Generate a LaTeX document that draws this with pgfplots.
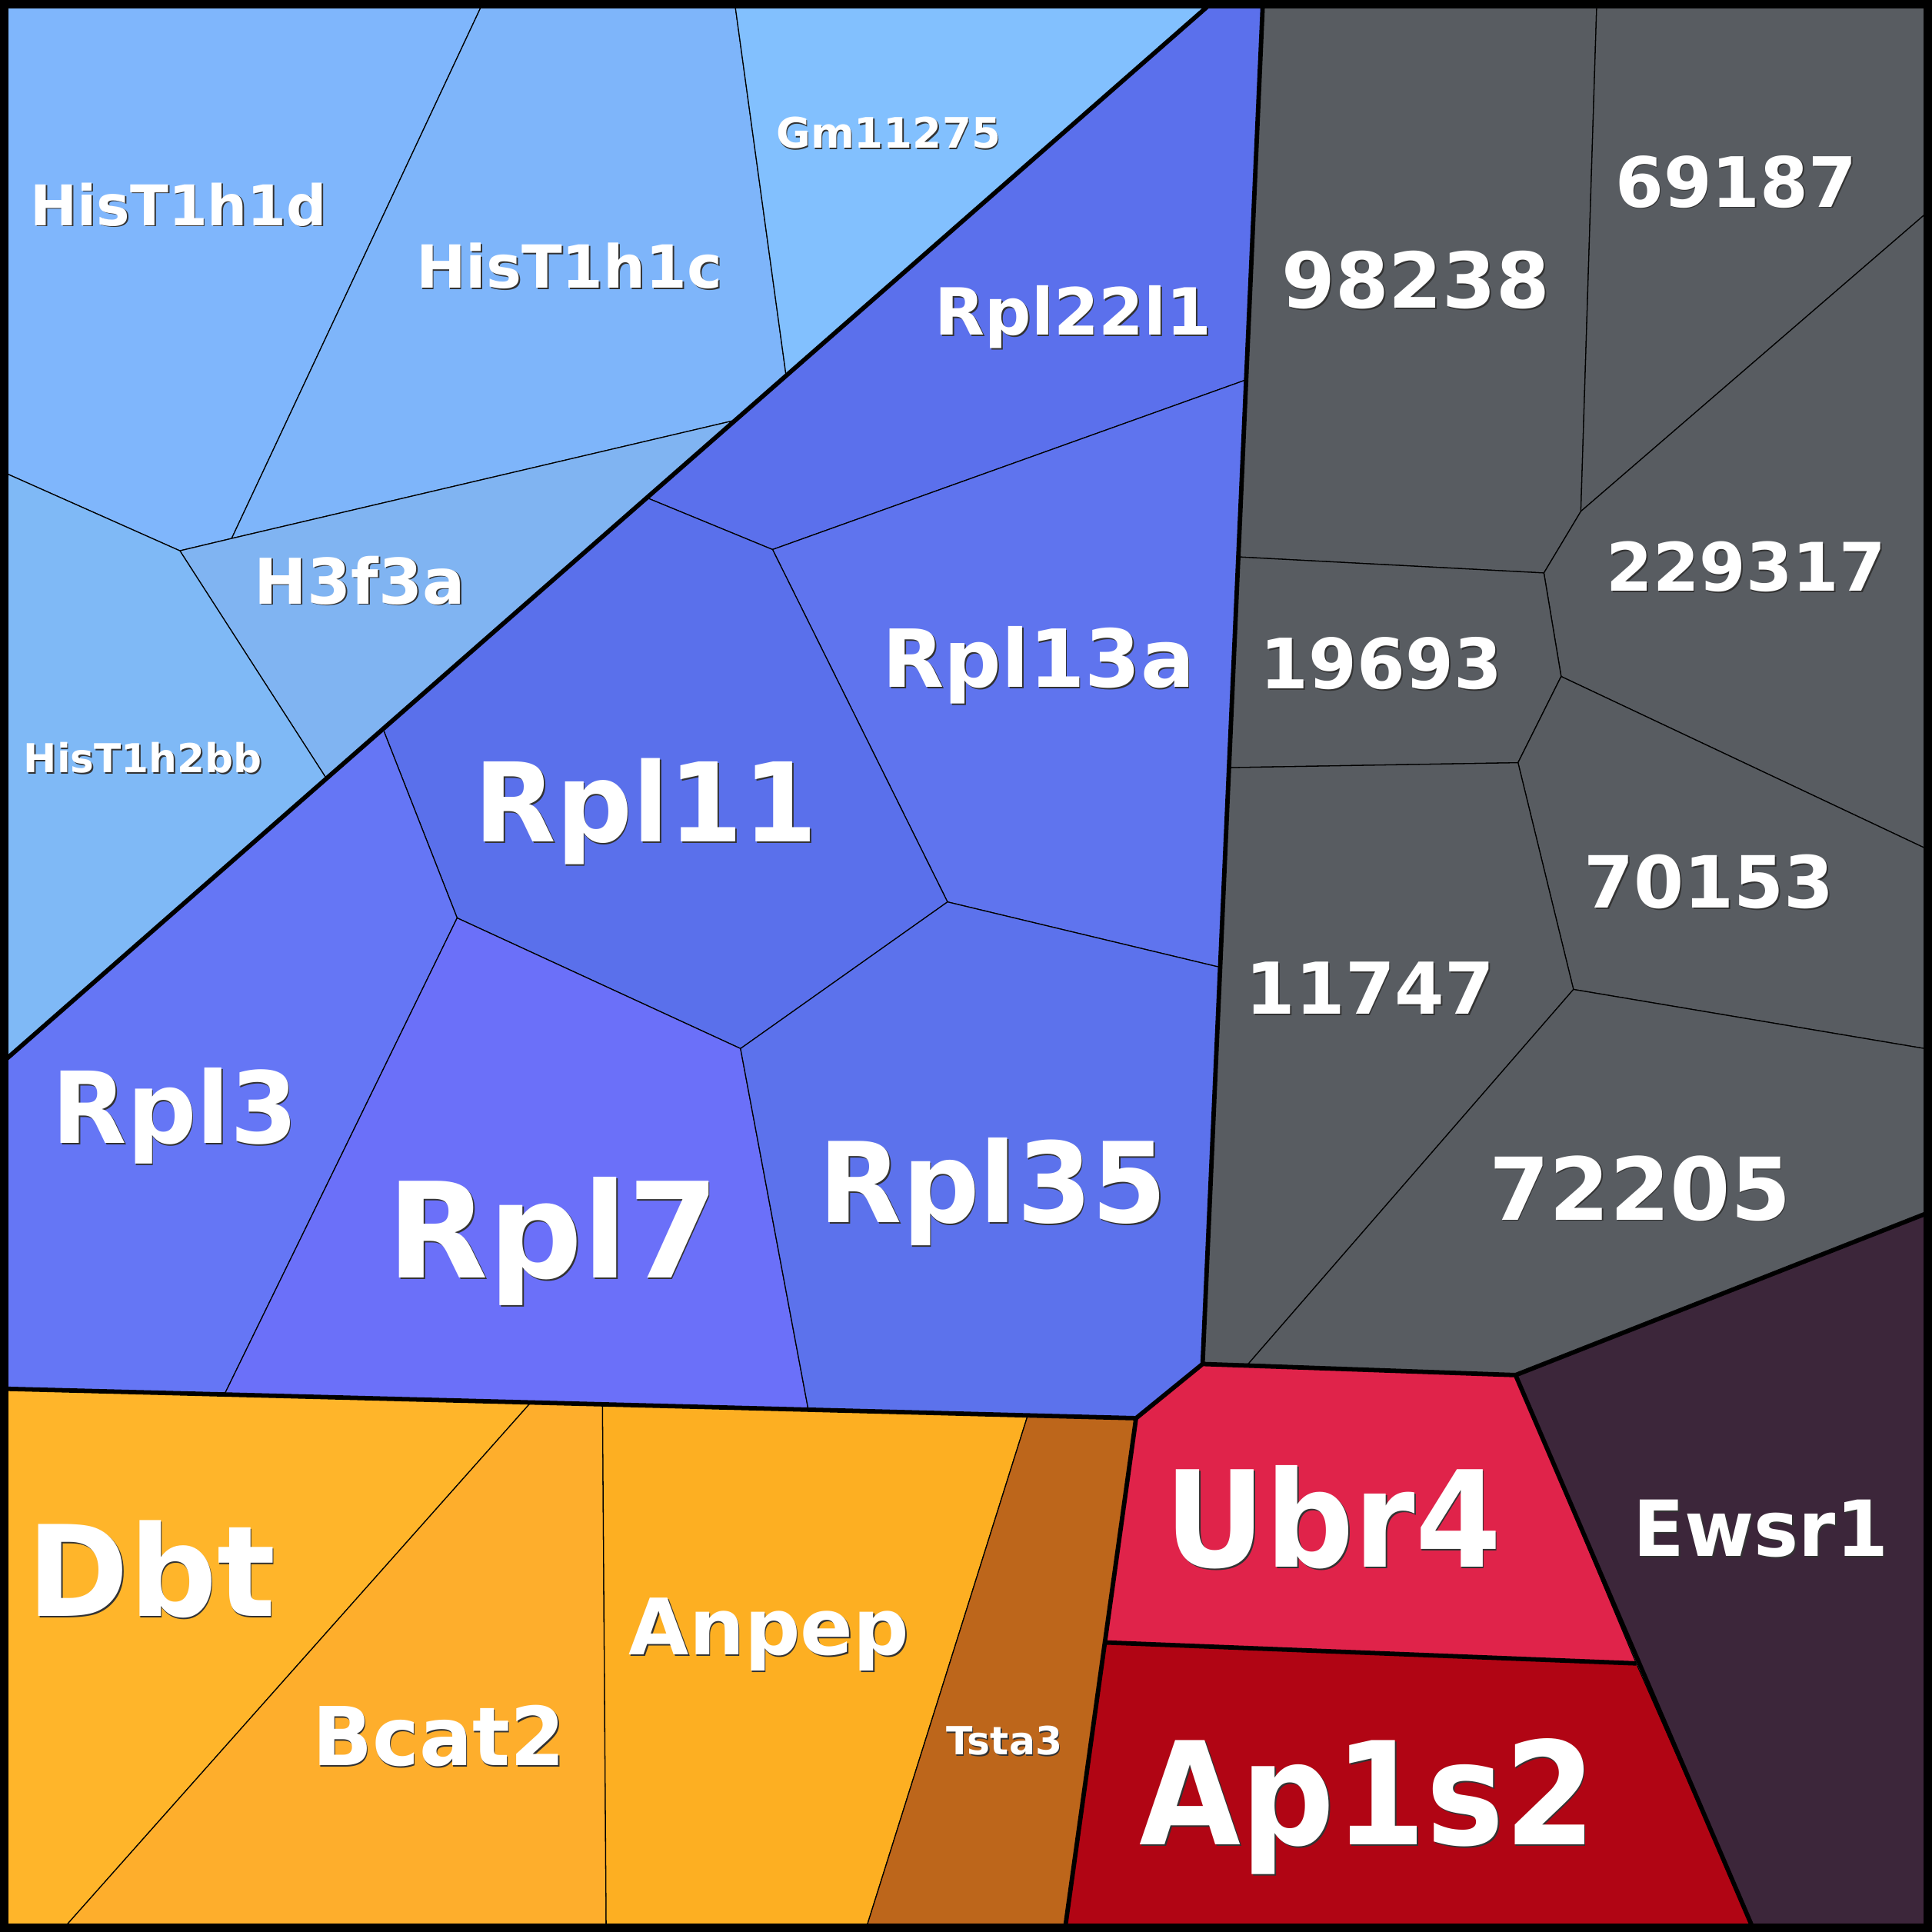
\documentclass[border=0pt]{standalone}
\usepackage{fontspec}
\setmainfont{DejaVu Sans}
\usepackage{pgfplots}
\pgfplotsset{compat=1.18}

% cell colours
\definecolor{hisd}{HTML}{7FB6FC}
\definecolor{hisc}{HTML}{7EB5FA}
\definecolor{gm}{HTML}{82C0FE}
\definecolor{hthree}{HTML}{80B4F2}
\definecolor{hisbb}{HTML}{7FB9F6}
\definecolor{rpltt}{HTML}{5B70EC}
\definecolor{rplta}{HTML}{5F74EE}
\definecolor{rplel}{HTML}{5A70EB}
\definecolor{rplthree}{HTML}{6576F5}
\definecolor{rplseven}{HTML}{6B70F9}
\definecolor{rplff}{HTML}{5C72EC}
\definecolor{grey}{HTML}{585C61}
\definecolor{dbt}{HTML}{FFB52A}
\definecolor{bcat}{HTML}{FEAE2C}
\definecolor{anpep}{HTML}{FDAF22}
\definecolor{tsta}{HTML}{BD661B}
\definecolor{ubr}{HTML}{E0234A}
\definecolor{apls}{HTML}{B10514}
\definecolor{ewsr}{HTML}{3C263A}

\newcommand{\lab}[5][1]{%
  \node[anchor=base, inner sep=0pt, yscale=#1, text=black!80,
        font=\bfseries\fontsize{#4}{#4}\selectfont, xshift=1.1pt, yshift=-1.1pt]
        at (axis cs:#2,#3) {#5};
  \node[anchor=base, inner sep=0pt, yscale=#1, text=white,
        font=\bfseries\fontsize{#4}{#4}\selectfont]
        at (axis cs:#2,#3) {#5};}

\begin{document}
\begin{tikzpicture}
\begin{axis}[
  width=1568pt, height=1568pt, scale only axis,
  xmin=0, xmax=1568, ymin=0, ymax=1568,
  y dir=reverse,
  axis lines=none,
]
\pgfplotsset{cell/.style={draw=black, line width=0.8pt, fill=#1}}

% histone group
\addplot[cell=hisd] coordinates {(0,0) (393,0) (188,437) (146,447) (0,382)} -- cycle;
\addplot[cell=hisc] coordinates {(393,0) (596,0) (638,305) (597,341) (188,437)} -- cycle;
\addplot[cell=gm] coordinates {(596,0) (986,0) (638,305)} -- cycle;
\addplot[cell=hthree] coordinates {(146,447) (188,437) (597,341) (265,632)} -- cycle;
\addplot[cell=hisbb] coordinates {(0,382) (146,447) (265,632) (0,864)} -- cycle;

% ribosomal group
\addplot[cell=rpltt] coordinates {(525,404) (986,0) (1025,0) (1012,308) (627,446)} -- cycle;
\addplot[cell=rplta] coordinates {(627,446) (1012,308) (990,785) (769,732)} -- cycle;
\addplot[cell=rplel] coordinates {(311,592) (525,404) (627,446) (769,732) (601,851) (371,745)} -- cycle;
\addplot[cell=rplthree] coordinates {(0,864) (311,592) (371,745) (182,1132) (0,1127)} -- cycle;
\addplot[cell=rplseven] coordinates {(371,745) (601,851) (656,1144) (182,1132)} -- cycle;
\addplot[cell=rplff] coordinates {(601,851) (769,732) (990,785) (976,1107) (922,1151) (656,1144)} -- cycle;

% grey group
\addplot[cell=grey] coordinates {(1025,0) (1296,0) (1283,415) (1253,465) (1005,452)} -- cycle;
\addplot[cell=grey] coordinates {(1296,0) (1568,0) (1568,169) (1283,415)} -- cycle;
\addplot[cell=grey] coordinates {(1283,415) (1568,169) (1568,691) (1267,549) (1253,465)} -- cycle;
\addplot[cell=grey] coordinates {(1005,452) (1253,465) (1267,549) (1232,619) (998,623)} -- cycle;
\addplot[cell=grey] coordinates {(1232,619) (1267,549) (1568,691) (1568,852) (1277,803)} -- cycle;
\addplot[cell=grey] coordinates {(998,623) (1232,619) (1277,803) (1013,1107) (976,1107)} -- cycle;
\addplot[cell=grey] coordinates {(1277,803) (1568,852) (1568,983) (1230,1116) (1013,1107)} -- cycle;

% orange group
\addplot[cell=dbt] coordinates {(0,1127) (431,1138) (49,1568) (0,1568)} -- cycle;
\addplot[cell=bcat] coordinates {(431,1138) (489,1140) (492,1568) (49,1568)} -- cycle;
\addplot[cell=anpep] coordinates {(489,1140) (834,1149) (702,1568) (492,1568)} -- cycle;
\addplot[cell=tsta] coordinates {(834,1149) (922,1151) (864,1568) (702,1568)} -- cycle;

% red group and Ewsr1
\addplot[cell=ubr] coordinates {(922,1151) (976,1107) (1230,1116) (1328,1350) (897,1333)} -- cycle;
\addplot[cell=apls] coordinates {(897,1333) (1328,1350) (1424,1568) (864,1568)} -- cycle;
\addplot[cell=ewsr] coordinates {(1230,1116) (1568,983) (1568,1568) (1424,1568)} -- cycle;

% group borders
\pgfplotsset{grp/.style={draw=black, line width=3.6pt, line join=round}}
\addplot[grp] coordinates {(0,864) (986,0)};
\addplot[grp] coordinates {(1025,0) (976,1107)};
\addplot[grp] coordinates {(0,1127) (922,1151) (976,1107) (1230,1116) (1568,983)};
\addplot[grp] coordinates {(922,1151) (864,1568)};
\addplot[grp] coordinates {(1230,1116) (1424,1568)};
\addplot[grp] coordinates {(897,1333) (1328,1350)};
\addplot[draw=black, line width=14pt] coordinates {(0,0) (1568,0) (1568,1568) (0,1568)} -- cycle;

% labels: [yscale]{x}{baseline}{size}{text}
\lab{145}{183}{45.6}{HisT1h1d}
\lab{462}{234}{48.2}{HisT1h1c}
\lab{721}{120}{34.1}{Gm11275}
\lab{292}{490}{51.2}{H3f3a}
\lab{116}{627}{32.3}{HisT1h2bb}
\lab{871}{272}{52.7}{Rpl22l1}
\lab{843}{558}{65}{Rpl13a}
\lab[1.03]{524}{683}{86.5}{Rpl11}
\lab[1.02]{142}{928}{79}{Rpl3}
\lab[1.01]{449}{1037}{106.6}{Rpl7}
\lab[1.03]{806}{992}{87.8}{Rpl35}
\lab{1149}{250}{62.5}{98238}
\lab{1409}{168}{56.4}{69187}
\lab{1417}{480}{54.3}{229317}
\lab{1121}{559}{56.4}{19693}
\lab{1387}{737}{58.4}{70153}
\lab{1112}{823}{58}{11747}
\lab{1331}{990}{70.4}{72205}
\lab[1.03]{123}{1312}{99.4}{Dbt}
\lab[1.03]{356}{1433}{64}{Bcat2}
\lab{624}{1343}{63.2}{Anpep}
\lab{815}{1424}{31.5}{Tsta3}
\lab[1.08]{1082}{1272}{100.5}{Ubr4}
\lab[1.09]{1110}{1497}{106.5}{Ap1s2}
\lab[1.03]{1429}{1263}{61}{Ewsr1}
\end{axis}
\end{tikzpicture}
\end{document}
